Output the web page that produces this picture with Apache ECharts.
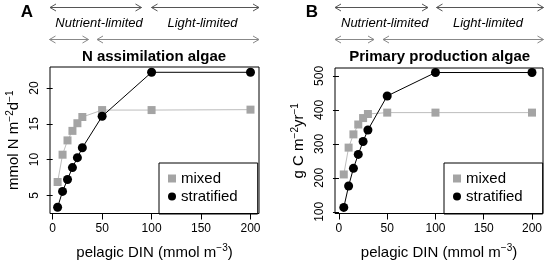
<!DOCTYPE html>
<html><head><meta charset="utf-8">
<script src="https://cdn.jsdelivr.net/npm/echarts@6/dist/echarts.min.js"></script>
<style>html,body{margin:0;padding:0;background:#fff}#c{width:547px;height:265px}</style>
</head><body><div id="c"></div>
<script>
// ---- data ----
const din = [5, 10, 15, 20, 25, 30, 50, 100, 200];
const nAssimMixed = [6.86, 10.68, 12.68, 14.01, 15.08, 15.95, 16.92, 16.92, 16.98];
const nAssimStratified = [3.34, 5.55, 7.22, 8.88, 10.27, 11.65, 16.05, 22.2, 22.2];
const ppMixed = [210, 289, 328, 357, 376, 388, 392, 392, 392];
const ppStratified = [113, 176, 228, 269, 307, 341, 441, 510, 510];
const xTicks = [0, 50, 100, 150, 200];
const yTicksA = [5, 10, 15, 20];
const yTicksB = [100, 200, 300, 400, 500];
const seriesNames = ['mixed', 'stratified'];
const panelTitles = ['N assimilation algae', 'Primary production algae'];
const panelLetters = ['A', 'B'];
const regimeLabels = ['Nutrient-limited', 'Light-limited'];

// ---- styling ----
const FONT = '"Liberation Sans", Arial, Helvetica, sans-serif';
const MIX_MARK = '#a4a4a4', MIX_LINE = '#bdbdbd', STRAT = '#000000';

const pairs = arr => din.map((x, i) => [x, arr[i]]);

const rich = {
  n: { fontSize: 15, lineHeight: 18, fontFamily: FONT, color: '#000' },
  s: { fontSize: 10, lineHeight: 7, fontFamily: FONT, color: '#000', verticalAlign: 'top' }
};

function xAxis(idx, min, max) {
  return {
    type: 'value', gridIndex: idx, min: min, max: max,
    axisLine: { show: false }, splitLine: { show: false },
    axisTick: { show: true, length: 6, lineStyle: { color: '#000' }, customValues: xTicks },
    axisLabel: { fontSize: 12, color: '#000', fontFamily: FONT, margin: 9, customValues: xTicks },
    name: '{n|pelagic DIN (mmol m}{s|−3}{n|)}', nameLocation: 'middle', nameGap: 30,
    nameTextStyle: { rich: rich }
  };
}
function yAxis(idx, min, max, ticks, name) {
  return {
    type: 'value', gridIndex: idx, min: min, max: max,
    axisLine: { show: false }, splitLine: { show: false },
    axisTick: { show: true, length: 6, lineStyle: { color: '#000' }, customValues: ticks },
    axisLabel: { fontSize: 12, color: '#000', fontFamily: FONT, margin: 9, rotate: 90, customValues: ticks },
    name: name, nameLocation: 'middle', nameGap: 27, nameRotate: 90,
    nameTextStyle: { rich: rich }
  };
}
function lineSeries(name, idx, arr) {
  const mixed = name === 'mixed';
  return {
    type: 'line', name: name, xAxisIndex: idx, yAxisIndex: idx,
    data: pairs(arr), symbol: mixed ? 'rect' : 'circle', symbolSize: mixed ? 8 : 9,
    lineStyle: { color: mixed ? MIX_LINE : STRAT, width: 1 },
    itemStyle: { color: mixed ? MIX_MARK : STRAT },
    z: mixed ? 2 : 3
  };
}
function legend(left) {
  return {
    left: left, top: 163, orient: 'vertical', selectedMode: false,
    padding: [8, 20, 10, 9], itemGap: 3, itemWidth: 8, itemHeight: 8,
    borderColor: '#000', borderWidth: 1, borderRadius: 0,
    textStyle: { fontSize: 15, lineHeight: 15, color: '#000', fontFamily: FONT },
    data: [{ name: seriesNames[0], icon: 'rect' }, { name: seriesNames[1], icon: 'circle' }]
  };
}
function arrow(x1, x2, y, color) {
  const st = { stroke: color, lineWidth: 1, fill: null };
  return [
    { type: 'line', shape: { x1: x1, y1: y, x2: x2, y2: y }, style: st, silent: true },
    { type: 'polyline', shape: { points: [[x1 + 6, y - 3.5], [x1, y], [x1 + 6, y + 3.5]] }, style: st, silent: true },
    { type: 'polyline', shape: { points: [[x2 - 6, y - 3.5], [x2, y], [x2 - 6, y + 3.5]] }, style: st, silent: true }
  ];
}
function text(t, x, y, font, align) {
  return { type: 'text', x: x, y: y, silent: true,
    style: { text: t, font: font, fill: '#000', textAlign: align || 'center', textVerticalAlign: 'middle' } };
}

const header = [];
// panel A
header.push(text(panelLetters[0], 27, 12, 'bold 17px ' + FONT));
header.push(...arrow(50, 141.5, 7.5, '#555'), ...arrow(151.5, 259, 7.5, '#555'));
header.push(text(regimeLabels[0], 99, 23, 'italic 13px ' + FONT), text(regimeLabels[1], 202.5, 23, 'italic 13px ' + FONT));
header.push(...arrow(49.5, 88.5, 39.5, '#888'), ...arrow(97, 259, 39.5, '#888'));
header.push(text(panelTitles[0], 154, 57, 'bold 15px ' + FONT));
// panel B
header.push(text(panelLetters[1], 312, 12, 'bold 17px ' + FONT));
header.push(...arrow(335, 428, 7.5, '#555'), ...arrow(436.5, 543.5, 7.5, '#555'));
header.push(text(regimeLabels[0], 384.7, 23, 'italic 13px ' + FONT), text(regimeLabels[1], 488, 23, 'italic 13px ' + FONT));
header.push(...arrow(335, 374, 39.5, '#888'), ...arrow(383, 543.5, 39.5, '#888'));
header.push(text(panelTitles[1], 439.7, 57, 'bold 15px ' + FONT));

const chart = echarts.init(document.getElementById('c'), null, { renderer: 'canvas' });
chart.setOption({
  animation: false,
  backgroundColor: '#fff',
  textStyle: { fontFamily: FONT },
  grid: [
    { left: 50, top: 67, width: 209, height: 148, show: true, borderColor: '#000', borderWidth: 1, backgroundColor: 'transparent' },
    { left: 335, top: 68, width: 208, height: 147, show: true, borderColor: '#000', borderWidth: 1, backgroundColor: 'transparent' }
  ],
  xAxis: [xAxis(0, -2.7, 208.6), xAxis(1, -4.1, 211.4)],
  yAxis: [
    yAxis(0, 2.46, 22.94, yTicksA, '{n|mmol N m}{s|−2}{n|d}{s|−1}'),
    yAxis(1, 95.1, 523.3, yTicksB, '{n|g C m}{s|−2}{n|yr}{s|−1}')
  ],
  legend: [legend(159), legend(444)],
  series: [
    lineSeries('mixed', 0, nAssimMixed),
    lineSeries('stratified', 0, nAssimStratified),
    lineSeries('mixed', 1, ppMixed),
    lineSeries('stratified', 1, ppStratified)
  ],
  graphic: header
});
</script>
</body></html>
